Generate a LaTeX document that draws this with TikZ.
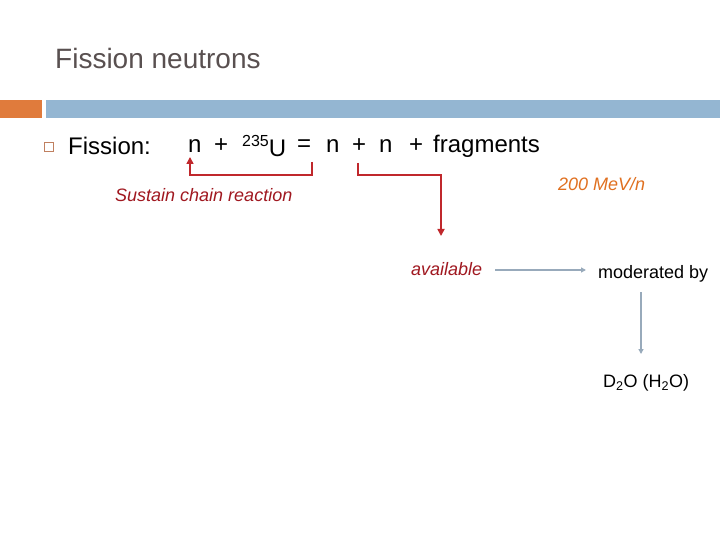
\documentclass[tikz,border=0pt]{standalone}
\usepackage{fontspec}
\setmainfont{Liberation Sans}
\usetikzlibrary{arrows.meta}
\definecolor{titlegray}{HTML}{595050}
\definecolor{barorange}{HTML}{E07B3C}
\definecolor{barblue}{HTML}{94B6D2}
\definecolor{bulletc}{HTML}{C08060}
\definecolor{redline}{HTML}{C0282C}
\definecolor{darkred}{HTML}{A01820}
\definecolor{orangetxt}{HTML}{E07020}
\definecolor{graylink}{HTML}{98AABB}
\tikzset{
  txt/.style={inner sep=0pt, anchor=west},
  redlink/.style={draw=redline, line width=1.6pt, -{Triangle[length=7pt,width=7pt]}},
  graylinkst/.style={draw=graylink, line width=1.5pt, -{Triangle[length=5pt,width=5pt]}},
}
\begin{document}
\begin{tikzpicture}[x=1pt,y=-1pt]
\useasboundingbox (0,0) rectangle (720,540);
\fill[white] (0,0) rectangle (720,540);
% title
\node[txt, text=titlegray, font=\fontsize{28}{30}\selectfont] (title) at (55,58) {Fission neutrons};
% bars
\fill[barorange] (0,100) rectangle (42,118);
\fill[barblue] (46,100) rectangle (720,118);
% bullet
\node[draw=bulletc, line width=1.5pt, minimum size=9pt, inner sep=0pt] (bullet) at (49,147) {};
\node[txt, font=\fontsize{24}{26}\selectfont] (fission) at (68,146) {Fission:};
% equation
\begin{scope}[every node/.style={txt, font=\fontsize{24}{26}\selectfont}]
\node (n1) at (188,146) {n};
\node (p1) at (214,146) {+};
\node (u) at (242,146) {\raisebox{0.45em}{\fontsize{16}{18}\selectfont 235}U};
\node (eq) at (297,146) {=};
\node (n2) at (326,146) {n};
\node (p2) at (352,146) {+};
\node (n3) at (379,146) {n};
\node (p3) at (409,146) {+};
\node (frag) at (433,146) {fragments};
\end{scope}
% labels
\node[txt, text=darkred, font=\fontsize{18}{20}\selectfont\itshape] (sustain) at (115,195) {Sustain chain reaction};
\node[txt, text=orangetxt, font=\fontsize{18}{20}\selectfont\itshape] (mev) at (558,184) {200 MeV/n};
\node[txt, text=darkred, font=\fontsize{18}{20}\selectfont\itshape] (avail) at (411,269) {available};
\node[txt, font=\fontsize{18}{20}\selectfont] (mod) at (598,274) {moderated by};
\node[txt, font=\fontsize{18}{20}\selectfont] (d2o) at (603,383) {D\textsubscript{2}O (H\textsubscript{2}O)};
% red brackets
\coordinate (b1s) at (312,162);
\coordinate (b1e) at (190,157);
\draw[redlink] (b1s) -- (312,175) -- (190,175) -- (b1e);
\coordinate (b2s) at (358,163);
\coordinate (b2e) at (441,236);
\draw[redlink] (b2s) -- (358,175) -- (441,175) -- (b2e);
% gray arrows
\draw[graylinkst] (495,270) -- (586,270);
\draw[graylinkst] (641,292) -- (641,354);
\end{tikzpicture}
\end{document}
